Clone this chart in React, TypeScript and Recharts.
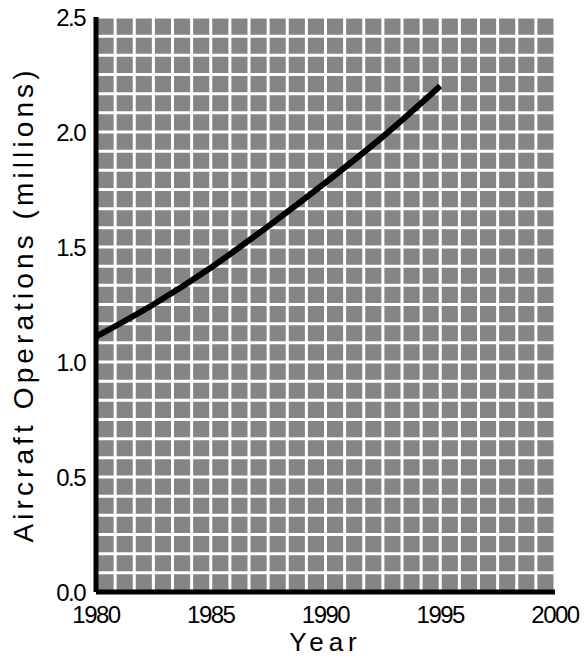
import React from 'react';
import { LineChart, Line, XAxis, YAxis, CartesianGrid } from 'recharts';

const years = [1980, 1982.5, 1985, 1987.5, 1990, 1992.5, 1995];
const operations = [1.11, 1.25, 1.41, 1.59, 1.78, 1.98, 2.2];
const xTicks = [1980, 1985, 1990, 1995, 2000];
const yTicks = [0, 0.5, 1.0, 1.5, 2.0, 2.5];
const gridColumns = 24;
const gridRows = 30;

const data = years.map((y, i) => ({ year: y, ops: operations[i] }));

const font = '"Liberation Sans", Arial, Helvetica, sans-serif';

export default function App() {
  return (
    <div style={{ position: 'absolute', left: 0, top: 0, width: 584, height: 662 }}>
      <LineChart
        width={584}
        height={662}
        data={data}
        margin={{ top: 17, right: 29, left: 0, bottom: 0 }}
      >
        <CartesianGrid
          fill="#858585"
          fillOpacity={1}
          stroke="#ffffff"
          strokeWidth={3}
          verticalCoordinatesGenerator={({ offset }: any) =>
            Array.from({ length: gridColumns + 1 }, (_, i) => offset.left + (i * offset.width) / gridColumns)
          }
          horizontalCoordinatesGenerator={({ offset }: any) =>
            Array.from({ length: gridRows + 1 }, (_, i) => offset.top + (i * offset.height) / gridRows)
          }
        />
        <XAxis
          dataKey="year"
          type="number"
          domain={[1980, 2000]}
          ticks={xTicks}
          height={70}
          tickLine={false}
          tickSize={0}
          tickMargin={14}
          axisLine={{ stroke: '#000', strokeWidth: 5 }}
          tick={{ fill: '#000', fontSize: 24, fontFamily: font, letterSpacing: -1.5 }}
          label={{
            value: 'Year',
            position: 'insideBottom',
            offset: 11,
            style: { fill: '#000', fontSize: 26, fontFamily: font, letterSpacing: 5 },
          }}
        />
        <YAxis
          type="number"
          domain={[0, 2.5]}
          ticks={yTicks}
          width={96}
          tickLine={false}
          tickSize={0}
          tickMargin={11}
          axisLine={{ stroke: '#000', strokeWidth: 5 }}
          tickFormatter={(v: number) => v.toFixed(1)}
          tick={{ fill: '#000', fontSize: 24, fontFamily: font, letterSpacing: -1.5 }}
          label={{
            value: 'Aircraft Operations (millions)',
            angle: -90,
            position: 'insideLeft',
            offset: 23,
            style: { fill: '#000', fontSize: 28, fontFamily: font, letterSpacing: 4.1, textAnchor: 'middle' },
          }}
        />
        <Line
          type="monotone"
          dataKey="ops"
          stroke="#000"
          strokeWidth={6}
          dot={false}
          isAnimationActive={false}
        />
      </LineChart>
    </div>
  );
}
